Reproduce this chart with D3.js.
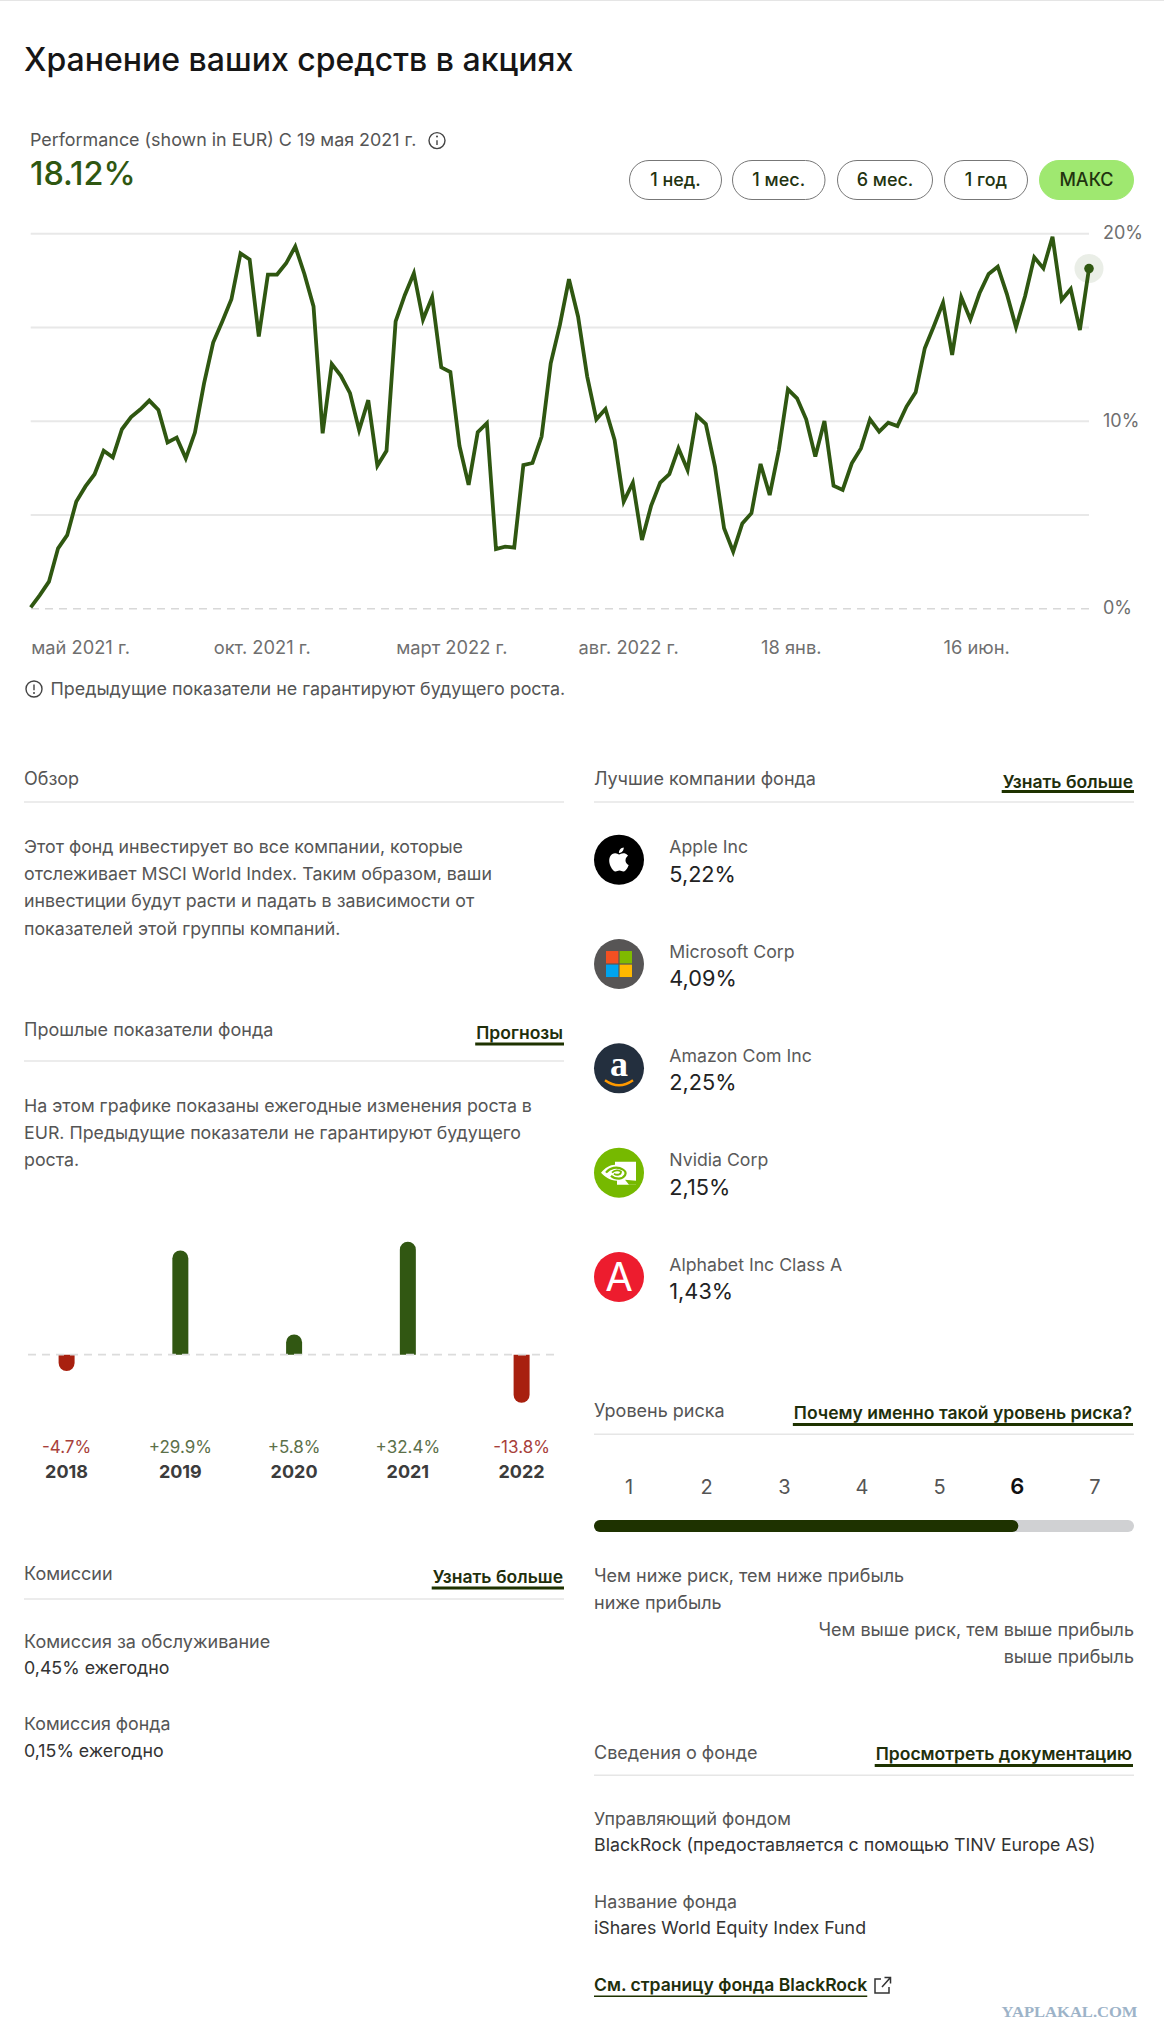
<!DOCTYPE html>
<html><head><meta charset="utf-8">
<script src="https://cdn.jsdelivr.net/npm/d3@7"></script>
<style>
html,body{margin:0;padding:0;background:#fff}
svg{display:block}
text{font-family:Inter,"Noto Sans",sans-serif}
</style></head><body><div id="c"></div>
<script>
const performanceValues=[0.05,0.7,1.42,3.2,3.9,5.7,6.5,7.15,8.4,8.05,9.55,10.2,10.6,11.08,10.58,8.84,9.1,8.0,9.37,12.0,14.17,15.3,16.48,18.93,18.6,14.5,17.8,17.8,18.4,19.3,17.83,16.1,9.33,13.03,12.4,11.47,9.5,11.1,7.6,8.4,15.3,16.7,17.87,15.4,16.6,12.85,12.6,8.66,6.58,9.39,9.87,3.16,3.29,3.24,7.64,7.75,9.16,13.07,15.1,17.55,15.55,12.36,10.08,10.63,8.98,5.69,6.7,3.64,5.46,6.7,7.15,8.53,7.38,10.28,9.83,7.56,4.27,3.02,4.53,5.07,7.7,6.04,8.44,11.68,11.2,10.08,8.09,9.99,6.54,6.31,7.73,8.53,10.08,9.42,9.9,9.72,10.76,11.52,13.87,15.06,16.3,13.51,16.59,15.41,16.8,17.83,18.22,16.76,14.99,16.66,18.72,18.13,19.82,16.44,17.03,14.84,18.12];
const xTickIndex=[0,20,40,60,80,100];
const xTickLabels=["май 2021 г.","окт. 2021 г.","март 2022 г.","авг. 2022 г.","18 янв.","16 июн."];
const yTicks=[0,5,10,15,20];
const yTickLabels=["0%","","10%","","20%"];
const rangeButtons=["1 нед.","1 мес.","6 мес.","1 год","МАКС"];
const years=["2018","2019","2020","2021","2022"];
const yearReturns=[-4.7,29.9,5.8,32.4,-13.8];
const companies=["Apple Inc","Microsoft Corp","Amazon Com Inc","Nvidia Corp","Alphabet Inc Class A"];
const companyWeights=["5,22%","4,09%","2,25%","2,15%","1,43%"];
const riskLevels=[1,2,3,4,5,6,7];
const currentRisk=6;

const GREEN="#2f5711",RED="#a82010",DARK="#1e3200",TXT="#555555",INK="#222222",RULE="#e6e6e6";
const BODY=17.8,HEAD=18,LINK=17.55;
const svg=d3.select("#c").append("svg").attr("width",1164).attr("height",2041);
function T(x,y,s,o={}){return svg.append("text").attr("x",x).attr("y",y).text(s)
 .attr("font-size",o.size||BODY).attr("font-weight",o.w||400).attr("fill",o.c||TXT).attr("text-anchor",o.a||"start");}
function H(x,y,s,o={}){return T(x,y,s,Object.assign({size:HEAD},o));}
function rule(y,x1,x2){svg.append("line").attr("x1",x1).attr("x2",x2).attr("y1",y).attr("y2",y).attr("stroke",RULE).attr("stroke-width",1.5);}
function link(x2,y,s,uy){const t=T(x2,y,s,{w:600,c:"#1f2f0c",a:"end",size:LINK});const l=t.node().getComputedTextLength();
 svg.append("rect").attr("x",x2-l-1).attr("y",uy).attr("width",l+2).attr("height",3).attr("fill",DARK);}
function info(cx,cy,r,flip){svg.append("circle").attr("cx",cx).attr("cy",cy).attr("r",r).attr("fill","none").attr("stroke","#444").attr("stroke-width",1.4);
 const a=flip?cy-r*.55:cy-r*.05,b=flip?cy+r*.15:cy+r*.55,d=flip?cy+r*.5:cy-r*.5;
 svg.append("line").attr("x1",cx).attr("x2",cx).attr("y1",a).attr("y2",b).attr("stroke","#444").attr("stroke-width",1.4);
 svg.append("circle").attr("cx",cx).attr("cy",d).attr("r",1).attr("fill","#444");}

svg.append("rect").attr("width",1164).attr("height",1).attr("fill","#e5e5e5");
T(24,71,"Хранение ваших средств в акциях",{size:32,w:500,c:"#161616"});
T(30,146,"Performance (shown in EUR) С 19 мая 2021 г.",{size:17.9,c:TXT});
info(437,140.6,8,false);
T(30,185,"18.12%",{size:32.4,w:500,c:GREEN});

// range buttons
const btnEdges=[[629,722],[732,825.5],[837,933],[944,1028],[1039,1134]];
rangeButtons.forEach((b,i)=>{const [a,e]=btnEdges[i],act=i===4;
 svg.append("rect").attr("x",a+.5).attr("y",160.5).attr("width",e-a-1).attr("height",39).attr("rx",19.5)
  .attr("fill",act?"#9fe870":"#fff").attr("stroke",act?"#9fe870":"#777").attr("stroke-width",1);
 T((a+e)/2,186,b,{a:"middle",w:500,size:18,c:"#22330f"});});

// line chart
const x=d3.scaleLinear().domain([0,performanceValues.length-1]).range([30.7,1089]);
const y=d3.scaleLinear().domain([0,20]).range([608.3,233.3]);
const yAxis=svg.append("g").attr("transform","translate(1089,0)")
 .call(d3.axisRight(y).tickValues(yTicks).tickSize(-1058.3).tickPadding(14).tickFormat((d,i)=>yTickLabels[i]));
yAxis.select(".domain").remove();
yAxis.selectAll("line").attr("stroke",d=>d===0?"#d8d8d8":"#e8e8e8").attr("stroke-width",d=>d===0?1.5:2).attr("stroke-dasharray",d=>d===0?"8 6":null);
yAxis.selectAll("text").attr("font-size",18).attr("fill","#6f6f6f").attr("font-family","Inter").attr("dy","0.3em").attr("x",14);
const xAxis=svg.append("g").attr("transform","translate(0,636)")
 .call(d3.axisBottom(x).tickValues(xTickIndex).tickSize(0).tickPadding(0).tickFormat((d,i)=>xTickLabels[i]));
xAxis.select(".domain").remove();
xAxis.selectAll("text").attr("font-size",18.3).attr("fill","#6f6f6f").attr("font-family","Inter").attr("text-anchor","start").attr("y",0).attr("dy",17.5);
svg.append("path").datum(performanceValues).attr("fill","none").attr("stroke",GREEN).attr("stroke-width",3.8)
 .attr("stroke-linejoin","miter").attr("d",d3.line().x((d,i)=>x(i)).y(d=>y(d)));
const last=performanceValues.length-1;
svg.append("circle").attr("cx",x(last)).attr("cy",y(performanceValues[last])).attr("r",14.5).attr("fill","#2f5711").attr("opacity",.1);
svg.append("circle").attr("cx",x(last)).attr("cy",y(performanceValues[last])).attr("r",4.8).attr("fill",GREEN);

info(34,689,8,true);
T(50.5,695,"Предыдущие показатели не гарантируют будущего роста.",{size:17.9});

// overview
H(24,785,"Обзор");rule(802,24,564);
["Этот фонд инвестирует во все компании, которые","отслеживает MSCI World Index. Таким образом, ваши","инвестиции будут расти и падать в зависимости от","показателей этой группы компаний."]
 .forEach((s,i)=>T(24,853+i*27.2,s));

// history
H(24,1036,"Прошлые показатели фонда");link(563,1038.5,"Прогнозы",1042.5);rule(1061,24,564);
["На этом графике показаны ежегодные изменения роста в","EUR. Предыдущие показатели не гарантируют будущего","роста."]
 .forEach((s,i)=>T(24,1112+i*27.2,s));

const bx=d3.scalePoint().domain(years).range([66.6,521.6]);
const by=d3.scaleLinear().domain([-20,40]).range([1354.7+20*3.488,1354.7-40*3.488]);
const barW=16;
years.forEach((yr,i)=>{const v=yearReturns[i],cx=bx(yr),y0=by(0),y1=by(v),r=barW/2,s=v>0?1:0;
 svg.append("path").attr("fill",v>0?"#315712":"#a8200f")
  .attr("d",`M${cx-r},${y0}L${cx-r},${y1+(v>0?r:-r)}A${r},${r} 0 0 ${s} ${cx+r},${y1+(v>0?r:-r)}L${cx+r},${y0}Z`);
 T(cx,1453,(v>0?"+":"")+v.toFixed(1)+"%",{a:"middle",size:17,c:v>0?"#5c7049":"#a8403a"});
 T(cx,1477.7,yr,{a:"middle",size:18,w:700,c:"#3c3c3c"});});
svg.append("line").attr("x1",28).attr("x2",560).attr("y1",by(0)).attr("y2",by(0)).attr("stroke","#dcdcdc").attr("stroke-width",1.8).attr("stroke-dasharray","8 6");

// fees
H(24,1580,"Комиссии");link(563,1582.5,"Узнать больше",1586.5);rule(1599,24,564);
H(24,1648,"Комиссия за обслуживание");T(24,1674,"0,45% ежегодно",{c:"#333"});
T(24,1730,"Комиссия фонда");T(24,1757,"0,15% ежегодно",{c:"#333"});

// top companies
H(594,785,"Лучшие компании фонда");link(1133,787.5,"Узнать больше",790);rule(802,594,1134);
const cy=d3.scalePoint().domain(companies).range([859.7,1277]);
const logoBg=["#000000","#575555","#232f3e","#76b900","#ed1c2e"];
companies.forEach((c,i)=>{const Y=cy(c);
 svg.append("circle").attr("cx",619).attr("cy",Y).attr("r",25).attr("fill",logoBg[i]);
 T(669.3,Y-6.4,c,{size:17.7,c:"#5a5a5a"});
 T(669.3,Y+22,companyWeights[i],{size:21.7,c:"#222"});
 const g=svg.append("g").attr("transform",`translate(619,${Y})`);
 if(i===0) g.append("path").attr("transform","translate(-14.4,-14.6) scale(1.2)").attr("fill","#fff")
  .attr("d","M18.71 19.5c-.83 1.24-1.71 2.45-3.05 2.47-1.34.03-1.77-.79-3.29-.79-1.53 0-2 .77-3.27.82-1.31.05-2.3-1.32-3.14-2.53C4.25 17 2.94 12.45 4.7 9.39c.87-1.52 2.43-2.48 4.12-2.51 1.28-.02 2.5.87 3.29.87.78 0 2.26-1.07 3.81-.91.65.03 2.47.26 3.64 1.98-.09.06-2.17 1.28-2.15 3.81.03 3.02 2.65 4.03 2.68 4.04-.03.07-.42 1.44-1.38 2.83M13 3.5c.73-.83 1.94-1.46 2.94-1.5.13 1.17-.34 2.35-1.04 3.19-.69.85-1.83 1.51-2.95 1.42-.15-1.15.41-2.35 1.05-3.11z");
 if(i===1) [["#f25022",-13,-13],["#7fba00",0.6,-13],["#00a4ef",-13,.6],["#ffb900",.6,.6]].forEach(q=>
  g.append("rect").attr("x",q[1]).attr("y",q[2]).attr("width",12.4).attr("height",12.4).attr("fill",q[0]));
 if(i===2){g.append("text").attr("text-anchor","middle").attr("y",8).attr("font-size",36).attr("font-weight",700).attr("fill","#fff").style("font-family","'Liberation Serif'").text("a");
  g.append("path").attr("d","M-14,12Q0,22 14,12").attr("fill","none").attr("stroke","#f90").attr("stroke-width",2.4);}
 if(i===3){g.append("path").attr("fill","#fff").attr("d","M-4,-11H17V12H-2V8C-9,8 -14,4 -18,0C-14,-5 -9,-8 -4,-8Z");
  g.append("path").attr("fill","none").attr("stroke","#76b900").attr("stroke-width",2.2).attr("d","M-13,0C-9,-5 -2,-7 4,-3C9,0 6,5 0,6C-3,6 -6,5 -8,3");
  g.append("path").attr("fill","none").attr("stroke","#76b900").attr("stroke-width",1.8).attr("d","M-7,0C-4,-3 0,-3 2,-1C2,2 -2,3 -5,1");
  g.append("path").attr("fill","#76b900").attr("d","M6,7L17,8V12H10Z");}
 if(i===4) g.append("text").attr("text-anchor","middle").attr("y",14).attr("font-size",40).attr("font-weight",400).attr("fill","#fff").text("A");
});

// risk
H(594,1416.7,"Уровень риска");link(1132,1419,"Почему именно такой уровень риска?",1423);rule(1434.3,594,1134);
const rx=d3.scalePoint().domain(riskLevels).range([629,1095]);
riskLevels.forEach(l=>T(rx(l),1494,l,{a:"middle",size:l===currentRisk?22:20,w:l===currentRisk?600:400,c:l===currentRisk?"#111":"#555"}));
svg.append("rect").attr("x",594).attr("y",1520).attr("width",540).attr("height",12).attr("rx",6).attr("fill","#d0d1d3");
svg.append("rect").attr("x",594).attr("y",1520).attr("width",rx(currentRisk)+1-594).attr("height",12).attr("rx",6).attr("fill",DARK);
H(594,1581.7,"Чем ниже риск, тем ниже прибыль");H(594,1609,"ниже прибыль");
H(1134,1636,"Чем выше риск, тем выше прибыль",{a:"end"});H(1134,1663,"выше прибыль",{a:"end"});

// fund info
H(594,1758.5,"Сведения о фонде");link(1132,1760,"Просмотреть документацию",1764);rule(1775.3,594,1134);
T(594,1824.7,"Управляющий фондом");T(594,1850.7,"BlackRock (предоставляется с помощью TINV Europe AS)",{c:"#333"});
T(594,1907.7,"Название фонда");T(594,1933.7,"iShares World Equity Index Fund",{c:"#333"});
const bl=T(594,1990.7,"См. страницу фонда BlackRock",{w:600,c:"#1f2f0c",size:LINK});
svg.append("rect").attr("x",594).attr("y",1995.5).attr("width",bl.node().getComputedTextLength()).attr("height",1.5).attr("fill",DARK);
svg.append("path").attr("fill","none").attr("stroke","#333").attr("stroke-width",1.5)
 .attr("d","M881,1979H875V1993H889V1987M882,1987L890,1978M884.5,1977.5H890.5V1983.5");
svg.append("text").attr("x",1001.5).attr("y",2016.5).attr("font-size",15).attr("font-weight",700).attr("fill","#9db3c8")
 .attr("textLength",136).attr("lengthAdjust","spacingAndGlyphs").style("font-family","'Liberation Serif'").text("YAPLAKAL.COM");
</script></body></html>
